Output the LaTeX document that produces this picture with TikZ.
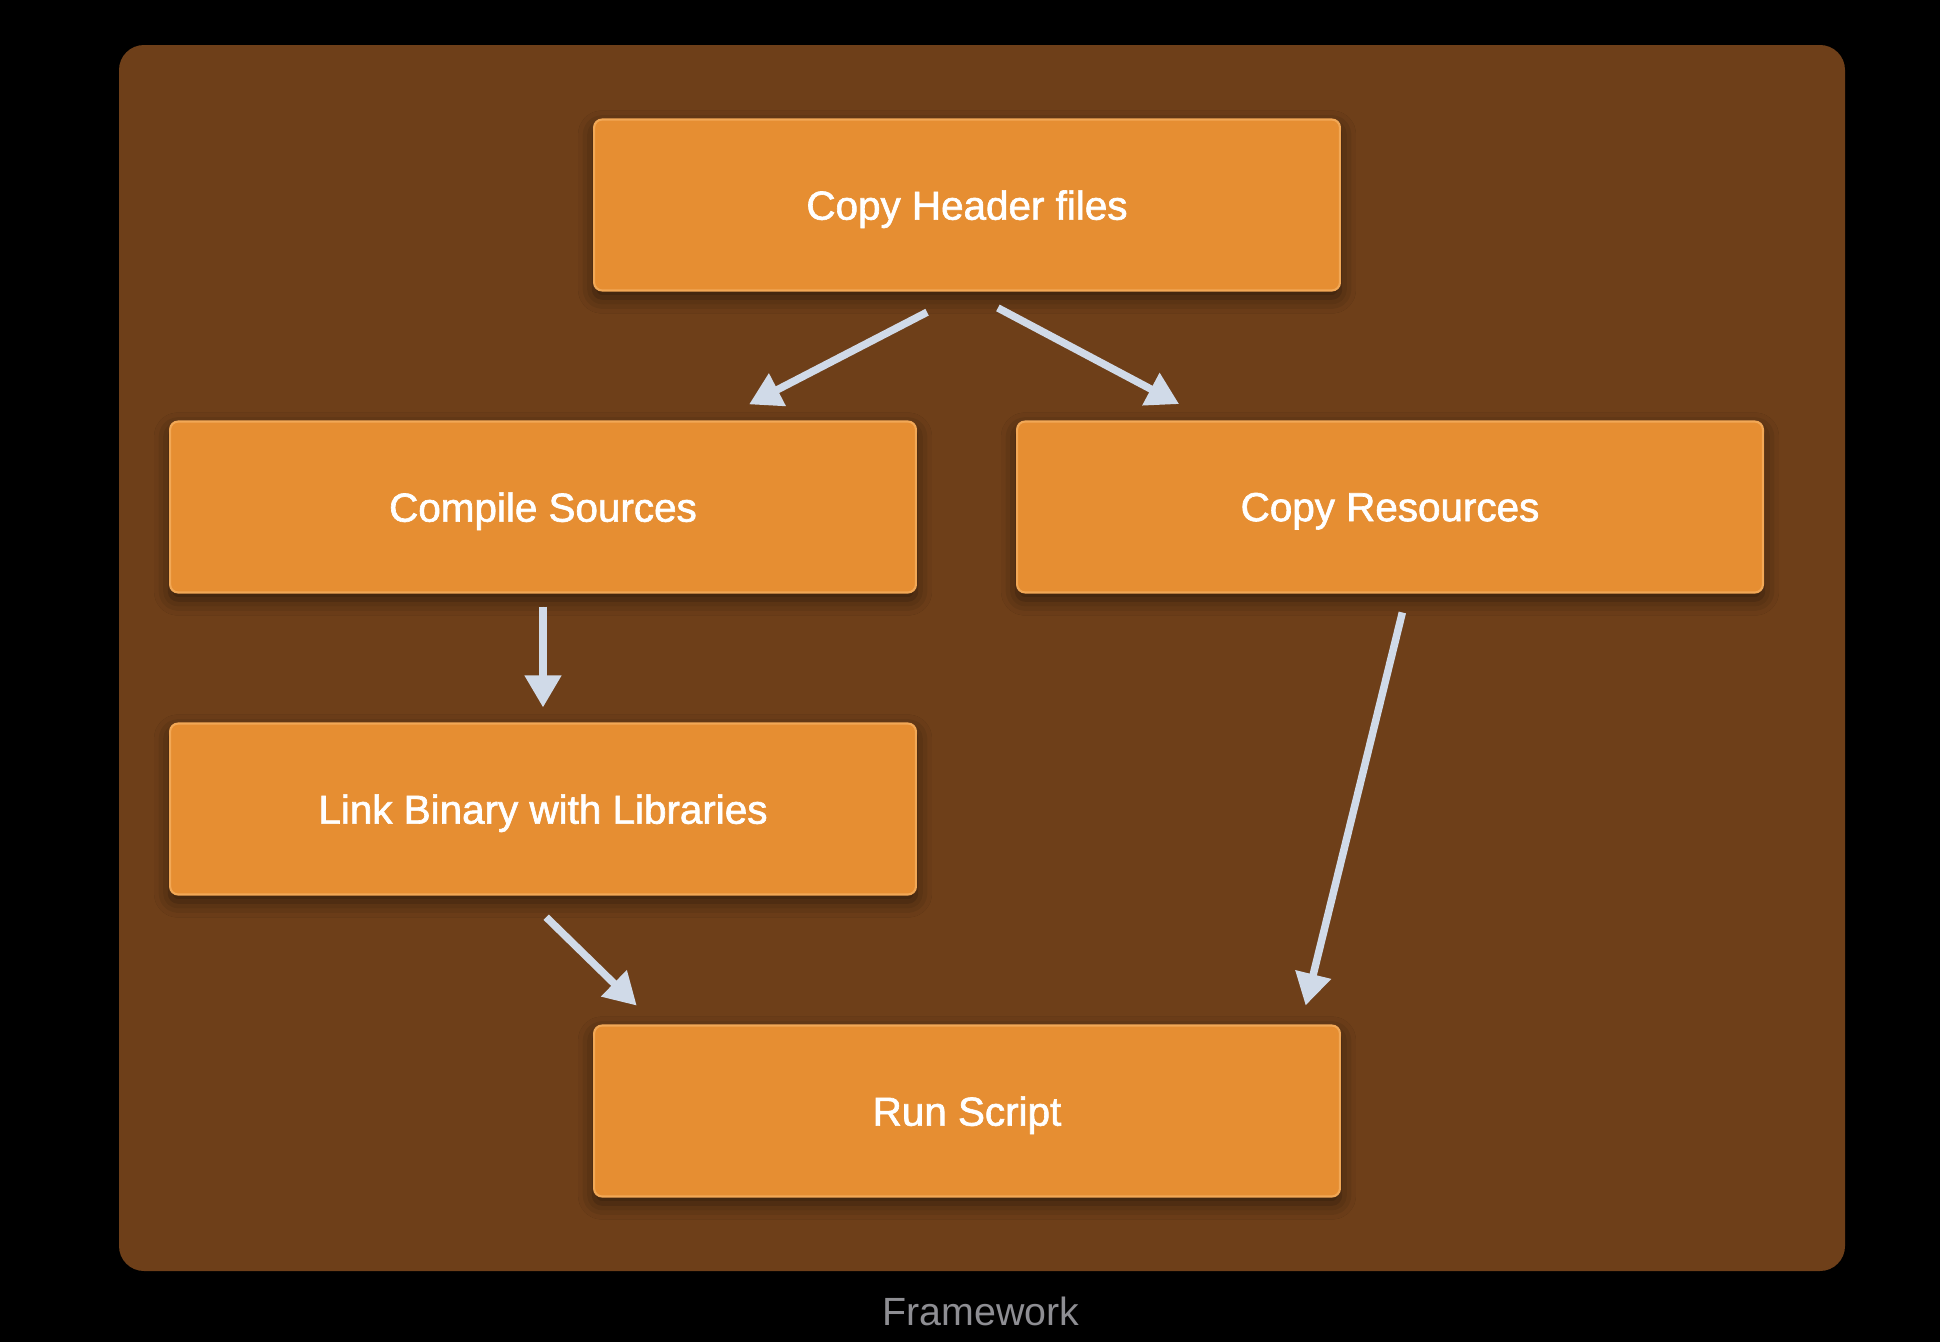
\documentclass[tikz,border=0pt]{standalone}
\usepackage{fontspec}
\setmainfont{Liberation Sans}
\newfontfamily\phasefont{Liberation Sans}[FakeBold=1.6]
\usepackage{tikz}
\usetikzlibrary{arrows.meta,shadows.blur}
\definecolor{framebrown}{RGB}{110,63,25}
\definecolor{phaseorange}{RGB}{230,142,50}
\definecolor{phaseedge}{RGB}{242,168,86}
\definecolor{arrowgray}{RGB}{208,218,232}
\definecolor{labelgray}{RGB}{142,142,147}

\begin{document}
\begin{tikzpicture}[x=0.02cm,y=-0.02cm,>={Triangle[length=0.64cm,width=0.7cm]}]
\tikzstyle{phase}=[draw=phaseedge,fill=phaseorange,rounded corners=0.16cm,line width=1.2pt,
  minimum width=14.92cm,minimum height=3.42cm,text=white,text depth=0pt,
  font=\phasefont\fontsize{23}{28}\selectfont,
  blur shadow={shadow xshift=0pt,shadow yshift=-0.14cm,shadow blur radius=0.32cm,shadow opacity=55}];
\tikzstyle{flow}=[->,draw=arrowgray,fill=arrowgray,line width=0.15cm];
\useasboundingbox (0,0) rectangle (1940,1342);
% background and group
    \fill[black] (0,0) rectangle (1940,1342);
    \fill[framebrown,rounded corners=0.5cm] (119,45) rectangle (1845,1271);
    \node[text=labelgray,font=\fontsize{22.4}{27}\selectfont] (fw) at (981,1311) {Framework};
% build phases
%   nodes
    \node[phase] (hdr) at (967,205)  {Copy Header files};
    \node[phase] (cmp) at (543,507)  {Compile Sources};
    \node[phase] (res) at (1390,507) {Copy Resources};
    \node[phase] (lnk) at (543,809)  {Link Binary with Libraries};
    \node[phase] (run) at (967,1111) {Run Script};
%   edges
    \draw[flow,shorten <=0.9cm,shorten >=0.7cm] (hdr.south) -- ([xshift=3.5cm]cmp.north);
    \draw[flow,shorten <=0.7cm,shorten >=0.7cm] (hdr.south) -- ([xshift=-3.6cm]res.north);
    \draw[flow,shorten <=0.26cm,shorten >=0.3cm] (cmp) -- (lnk);
    \draw[flow,shorten <=0.62cm,shorten >=0.54cm] ([xshift=-0.38cm]lnk.south) -- ([xshift=-6.22cm]run.north);
    \draw[flow,shorten <=0.39cm,shorten >=0.39cm] ([xshift=0.34cm]res.south) -- ([xshift=6.68cm]run.north);
\end{tikzpicture}
\end{document}
